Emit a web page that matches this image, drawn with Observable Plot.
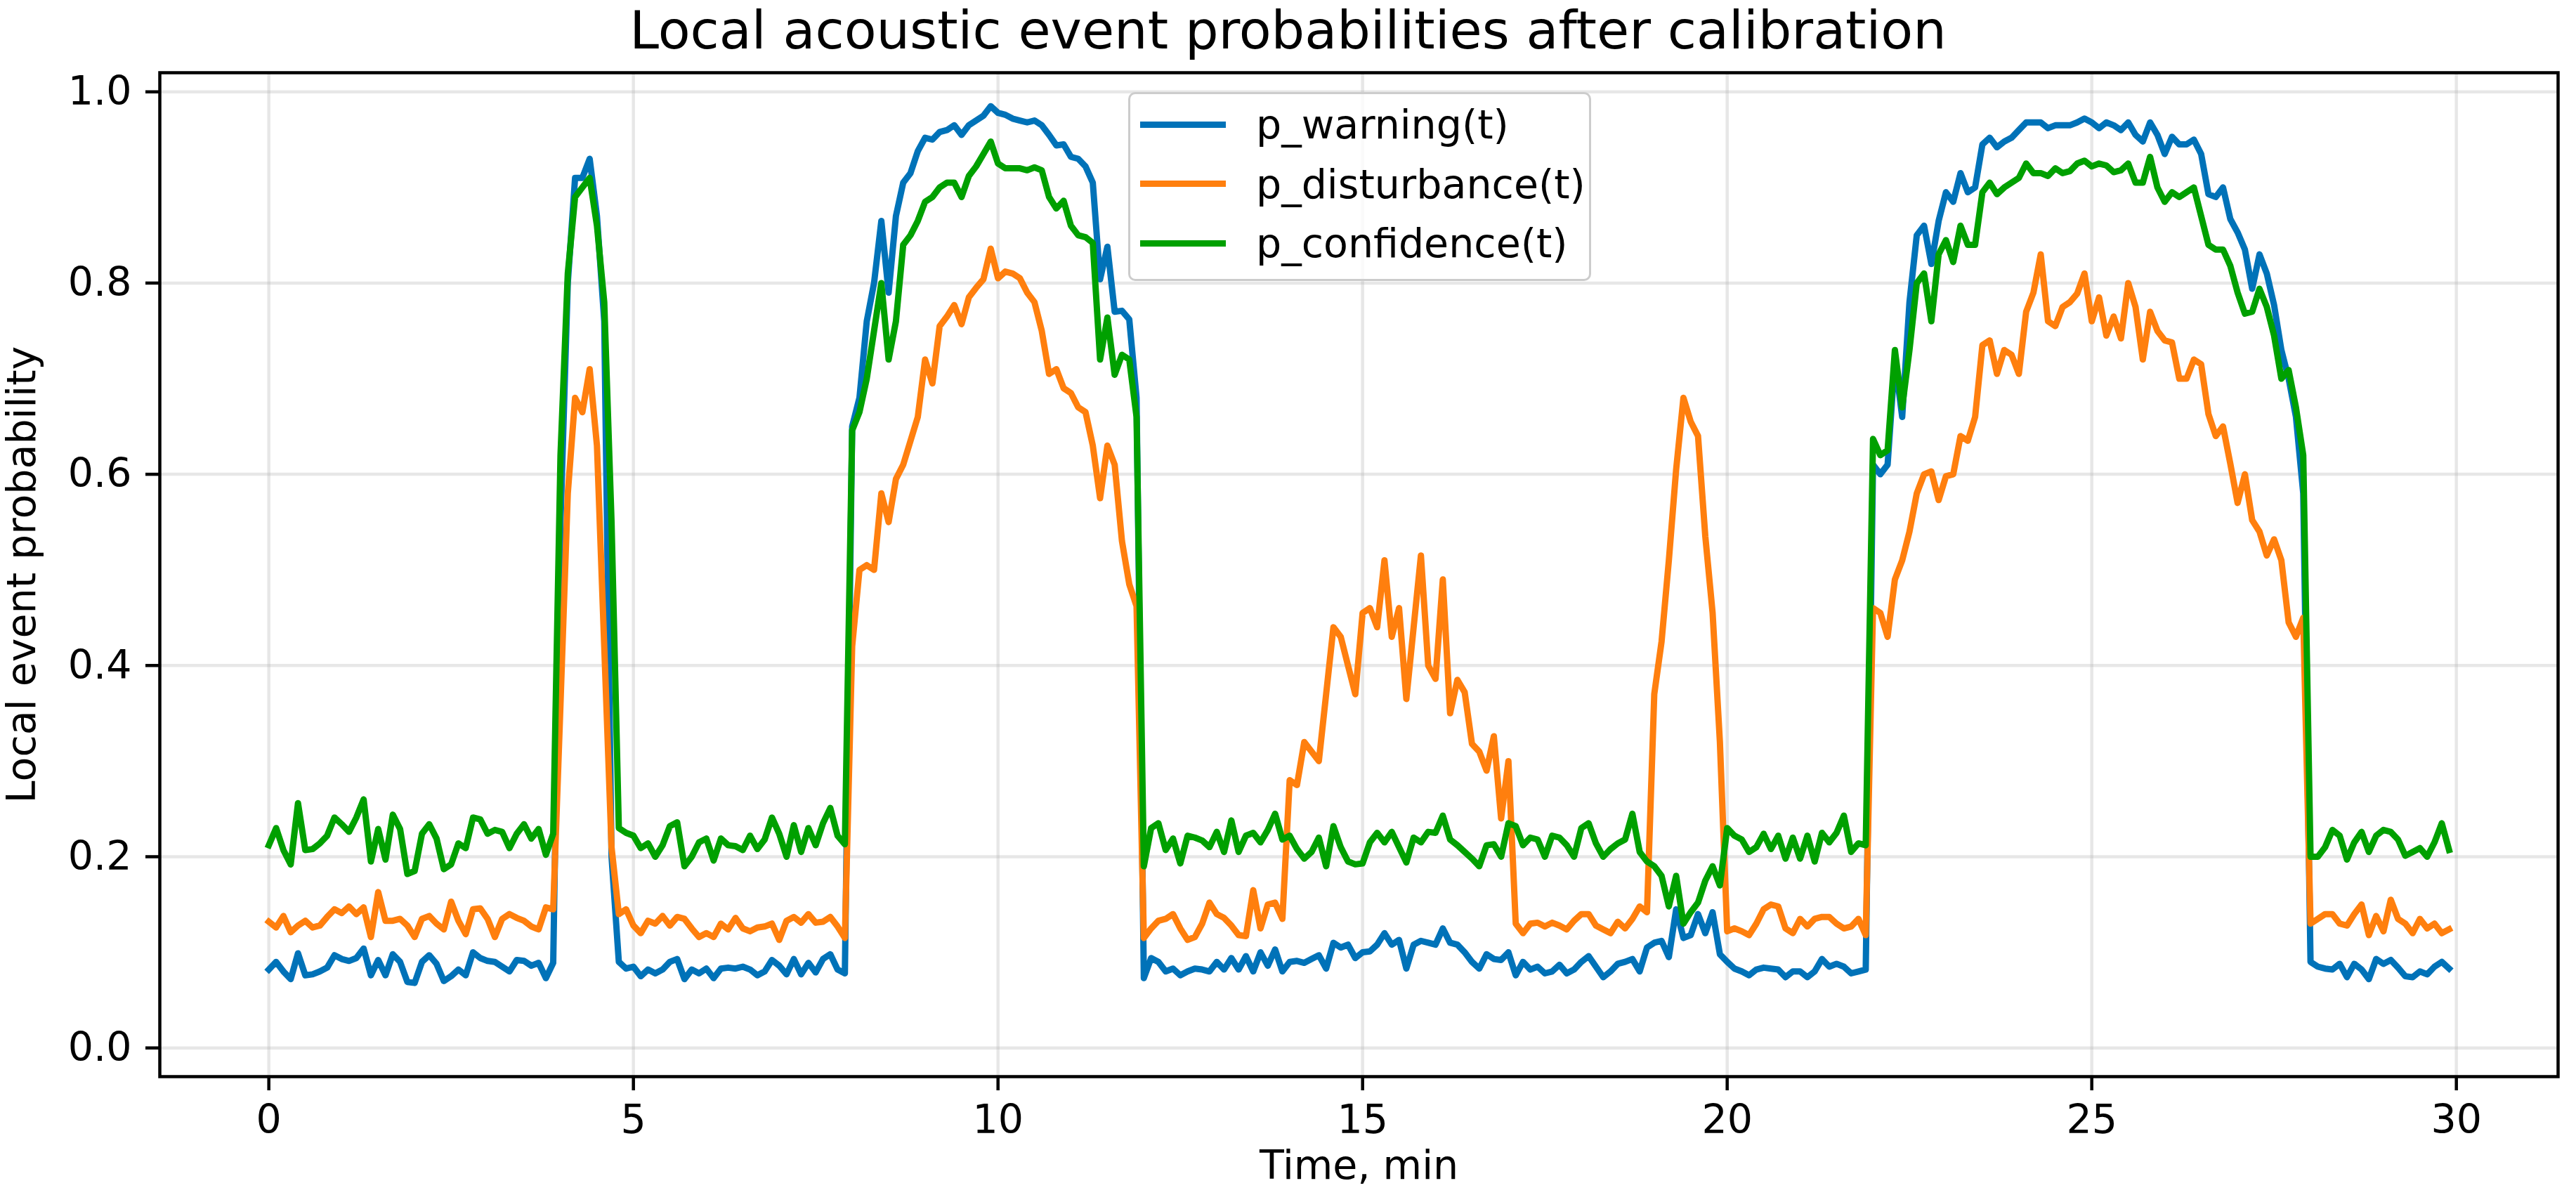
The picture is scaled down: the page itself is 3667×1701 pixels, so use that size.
<!DOCTYPE html>
<html>
<head>
<meta charset="utf-8">
<script src="https://cdn.jsdelivr.net/npm/d3@7"></script>
<script src="https://cdn.jsdelivr.net/npm/@observablehq/plot@0.6"></script>
<style>
  html, body { margin: 0; padding: 0; background: #fff; }
  #wrap { position: relative; width: 3667px; height: 1701px; font-family: "DejaVu Sans", sans-serif; color: #000; }
  #title { height: 90px; line-height: 87px; font-size: 75px; text-align: center; white-space: nowrap; }
  #legend { position: absolute; left: 1606px; top: 131px; width: 653px; height: 263px; border: 3px solid #cccccc; border-radius: 10px; background: rgba(255,255,255,0.8); }
  .item { position: absolute; left: 0; height: 66px; display: flex; align-items: center; font-size: 57px; white-space: nowrap; }
  .sw { display: inline-block; width: 122px; height: 9px; margin-left: 14px; margin-right: 43px; }
</style>
</head>
<body>
<div id="wrap">
  <div id="title">Local acoustic event probabilities after calibration</div>
  <div id="chart"></div>
  <div id="legend"></div>
</div>
<script>
// Time axis: samples every 0.1 min from 0.0 to 29.9
const T_STEP = 0.1;

const seriesNames = ["p_warning(t)", "p_disturbance(t)", "p_confidence(t)"];
const seriesColors = ["#0072b8", "#ff7f0e", "#00a000"];

const xTicks = [0, 5, 10, 15, 20, 25, 30];
const yTicks = [0.0, 0.2, 0.4, 0.6, 0.8, 1.0];

const pWarning = [
  0.082,0.090,0.080,0.072,0.099,0.076,0.077,0.080,0.084,0.097,
  0.093,0.091,0.094,0.104,0.076,0.092,0.076,0.098,0.090,0.069,
  0.068,0.090,0.097,0.088,0.070,0.075,0.082,0.076,0.100,0.094,
  0.091,0.090,0.085,0.080,0.092,0.091,0.086,0.089,0.073,0.089,
  0.55,0.80,0.91,0.91,0.93,0.87,0.76,0.20,0.090,0.083,
  0.085,0.075,0.082,0.078,0.082,0.090,0.093,0.072,0.082,0.078,
  0.083,0.073,0.083,0.084,0.083,0.085,0.082,0.076,0.080,0.092,
  0.086,0.077,0.093,0.077,0.089,0.079,0.093,0.098,0.082,0.078,
  0.65,0.68,0.76,0.80,0.865,0.79,0.87,0.905,0.915,0.938,
  0.952,0.950,0.958,0.960,0.965,0.955,0.965,0.970,0.975,0.985,
  0.978,0.976,0.972,0.970,0.968,0.970,0.965,0.955,0.944,0.945,
  0.932,0.930,0.922,0.905,0.804,0.838,0.770,0.771,0.762,0.680,
  0.073,0.094,0.090,0.080,0.083,0.076,0.080,0.083,0.082,0.080,
  0.090,0.082,0.094,0.082,0.096,0.080,0.100,0.086,0.103,0.080,
  0.090,0.091,0.089,0.093,0.097,0.083,0.110,0.105,0.108,0.094,
  0.100,0.101,0.108,0.120,0.108,0.113,0.083,0.108,0.112,0.110,
  0.108,0.125,0.110,0.108,0.100,0.090,0.083,0.098,0.093,0.092,
  0.100,0.076,0.090,0.082,0.085,0.078,0.080,0.087,0.078,0.082,
  0.090,0.096,0.085,0.074,0.080,0.088,0.090,0.093,0.080,0.105,
  0.110,0.112,0.095,0.145,0.115,0.118,0.140,0.120,0.142,0.098,
  0.090,0.083,0.080,0.076,0.082,0.084,0.083,0.082,0.074,0.080,
  0.080,0.074,0.080,0.093,0.085,0.088,0.085,0.078,0.080,0.082,
  0.61,0.60,0.61,0.72,0.66,0.78,0.85,0.86,0.82,0.865,
  0.895,0.885,0.915,0.895,0.900,0.945,0.952,0.942,0.948,0.952,
  0.960,0.968,0.968,0.968,0.962,0.965,0.965,0.965,0.968,0.972,
  0.968,0.962,0.968,0.965,0.960,0.968,0.955,0.948,0.968,0.955,
  0.935,0.953,0.945,0.945,0.950,0.935,0.893,0.890,0.900,0.867,
  0.853,0.835,0.794,0.830,0.810,0.777,0.730,0.700,0.660,0.580,
  0.090,0.085,0.083,0.082,0.088,0.074,0.088,0.082,0.072,0.093,
  0.088,0.092,0.084,0.075,0.074,0.080,0.077,0.085,0.090,0.083
];

const pDisturbance = [
  0.132,0.126,0.138,0.121,0.128,0.133,0.126,0.128,0.137,0.145,
  0.141,0.148,0.140,0.147,0.116,0.163,0.133,0.133,0.135,0.128,
  0.116,0.135,0.138,0.130,0.124,0.153,0.133,0.119,0.145,0.146,
  0.135,0.116,0.135,0.140,0.136,0.133,0.127,0.124,0.147,0.145,
  0.36,0.58,0.68,0.665,0.71,0.63,0.42,0.21,0.140,0.145,
  0.128,0.120,0.133,0.130,0.138,0.128,0.137,0.135,0.125,0.116,
  0.120,0.116,0.130,0.124,0.136,0.125,0.122,0.126,0.127,0.130,
  0.113,0.133,0.137,0.131,0.140,0.131,0.132,0.137,0.127,0.115,
  0.42,0.50,0.505,0.50,0.58,0.55,0.595,0.61,0.635,0.66,
  0.72,0.695,0.755,0.765,0.777,0.757,0.785,0.795,0.804,0.836,
  0.805,0.812,0.81,0.805,0.79,0.78,0.75,0.705,0.71,0.69,
  0.685,0.67,0.665,0.63,0.575,0.63,0.61,0.53,0.485,0.462,
  0.115,0.125,0.133,0.135,0.140,0.125,0.113,0.116,0.130,0.152,
  0.140,0.136,0.128,0.118,0.117,0.165,0.125,0.150,0.152,0.135,
  0.28,0.275,0.32,0.31,0.30,0.37,0.44,0.43,0.40,0.37,
  0.455,0.46,0.44,0.51,0.43,0.46,0.365,0.44,0.515,0.40,
  0.386,0.49,0.35,0.385,0.372,0.318,0.31,0.29,0.326,0.24,
  0.30,0.130,0.120,0.130,0.131,0.127,0.131,0.128,0.124,0.133,
  0.140,0.140,0.128,0.124,0.120,0.132,0.125,0.135,0.148,0.142,
  0.37,0.425,0.51,0.605,0.68,0.655,0.64,0.535,0.455,0.32,
  0.122,0.125,0.122,0.118,0.130,0.145,0.150,0.148,0.125,0.120,
  0.135,0.127,0.135,0.137,0.137,0.130,0.125,0.127,0.135,0.118,
  0.46,0.455,0.43,0.49,0.51,0.54,0.58,0.60,0.603,0.573,
  0.598,0.60,0.64,0.635,0.66,0.735,0.74,0.705,0.73,0.725,
  0.705,0.77,0.79,0.83,0.76,0.755,0.775,0.78,0.789,0.81,
  0.76,0.785,0.745,0.765,0.742,0.80,0.775,0.72,0.77,0.75,
  0.74,0.738,0.70,0.70,0.72,0.715,0.663,0.64,0.65,0.611,
  0.57,0.60,0.552,0.54,0.515,0.532,0.51,0.445,0.43,0.45,
  0.130,0.135,0.140,0.140,0.130,0.128,0.140,0.150,0.118,0.138,
  0.122,0.155,0.135,0.130,0.120,0.135,0.125,0.130,0.120,0.124
];

const pConfidence = [
  0.212,0.230,0.207,0.192,0.256,0.207,0.208,0.214,0.222,0.241,
  0.234,0.226,0.241,0.260,0.195,0.229,0.197,0.244,0.229,0.182,
  0.185,0.224,0.234,0.219,0.187,0.192,0.214,0.209,0.241,0.239,
  0.224,0.228,0.226,0.209,0.224,0.234,0.219,0.229,0.202,0.224,
  0.62,0.81,0.89,0.90,0.91,0.86,0.78,0.55,0.23,0.225,
  0.222,0.209,0.214,0.200,0.212,0.232,0.236,0.190,0.200,0.215,
  0.219,0.196,0.219,0.212,0.211,0.207,0.222,0.208,0.218,0.241,
  0.224,0.200,0.233,0.205,0.230,0.212,0.235,0.251,0.222,0.213,
  0.646,0.665,0.70,0.75,0.80,0.72,0.76,0.84,0.85,0.865,
  0.885,0.89,0.90,0.905,0.905,0.89,0.912,0.922,0.935,0.948,
  0.925,0.92,0.92,0.92,0.918,0.921,0.918,0.89,0.878,0.886,
  0.86,0.85,0.848,0.842,0.72,0.764,0.704,0.725,0.72,0.66,
  0.19,0.23,0.235,0.207,0.219,0.193,0.222,0.22,0.217,0.21,
  0.226,0.205,0.238,0.205,0.222,0.225,0.215,0.228,0.245,0.218,
  0.222,0.208,0.198,0.205,0.22,0.19,0.232,0.21,0.195,0.192,
  0.193,0.215,0.225,0.215,0.226,0.21,0.194,0.22,0.215,0.226,
  0.225,0.243,0.218,0.212,0.205,0.198,0.19,0.212,0.213,0.20,
  0.235,0.232,0.212,0.22,0.218,0.20,0.222,0.22,0.212,0.20,
  0.23,0.235,0.214,0.20,0.208,0.214,0.218,0.245,0.205,0.195,
  0.19,0.18,0.148,0.18,0.13,0.142,0.152,0.175,0.19,0.17,
  0.23,0.222,0.218,0.205,0.21,0.224,0.208,0.222,0.198,0.22,
  0.198,0.222,0.195,0.225,0.215,0.225,0.243,0.205,0.214,0.212,
  0.637,0.62,0.625,0.73,0.67,0.73,0.80,0.81,0.76,0.83,
  0.845,0.822,0.86,0.84,0.84,0.895,0.905,0.893,0.90,0.905,
  0.91,0.925,0.915,0.915,0.912,0.92,0.915,0.917,0.925,0.928,
  0.922,0.925,0.923,0.916,0.918,0.925,0.905,0.905,0.932,0.90,
  0.885,0.895,0.89,0.895,0.90,0.87,0.84,0.835,0.835,0.818,
  0.79,0.768,0.77,0.794,0.775,0.745,0.70,0.709,0.67,0.62,
  0.20,0.20,0.21,0.228,0.222,0.197,0.215,0.226,0.205,0.222,
  0.228,0.226,0.218,0.201,0.205,0.209,0.20,0.215,0.235,0.207
];

const seriesValues = [pWarning, pDisturbance, pConfidence];

function rowsFor(values, name) {
  return values.map((v, i) => ({ t: +(i * T_STEP).toFixed(1), v, s: name }));
}

const gridStyle = { stroke: "#b0b0b0", strokeOpacity: 0.3, strokeWidth: 4.5 };

const lineMarks = seriesValues.map((vals, k) =>
  Plot.line(rowsFor(vals, seriesNames[k]), {
    x: "t", y: "v", stroke: seriesColors[k], strokeWidth: 9,
    strokeLinejoin: "round", strokeLinecap: "square"
  })
);

const chart = Plot.plot({
  width: 3667,
  height: 1611,
  marginLeft: 227,
  marginRight: 26,
  marginTop: 13,
  marginBottom: 169,
  style: { fontFamily: '"DejaVu Sans", sans-serif', fontSize: "57px", color: "#000", background: "#fff", overflow: "visible" },
  x: { domain: [-1.495, 31.395] },
  y: { domain: [-0.03, 1.02] },
  marks: [
    Plot.gridX(xTicks, gridStyle),
    Plot.gridY(yTicks, gridStyle),
    ...lineMarks,
    Plot.frame({ stroke: "#000", strokeWidth: 4.5 }),
    Plot.axisX(xTicks, {
      tickSize: 20, tickPadding: 20, strokeWidth: 4.5,
      tickFormat: d => String(d),
      label: "Time, min", labelAnchor: "center", labelArrow: "none", labelOffset: 145
    }),
    Plot.axisY(yTicks, {
      tickSize: 20, tickPadding: 20, strokeWidth: 4.5,
      tickFormat: d3.format(".1f"),
      label: "Local event probability", labelAnchor: "center", labelArrow: "none", labelOffset: 218
    })
  ]
});
document.getElementById("chart").appendChild(chart);

// Legend (HTML overlay inside the axes area, as in the reference)
const legend = document.getElementById("legend");
seriesNames.forEach((name, k) => {
  const item = document.createElement("div");
  item.className = "item";
  item.style.top = (10 + k * 84.5) + "px";
  const sw = document.createElement("span");
  sw.className = "sw";
  sw.style.background = seriesColors[k];
  const label = document.createElement("span");
  label.textContent = name;
  item.appendChild(sw);
  item.appendChild(label);
  legend.appendChild(item);
});
</script>
</body>
</html>
